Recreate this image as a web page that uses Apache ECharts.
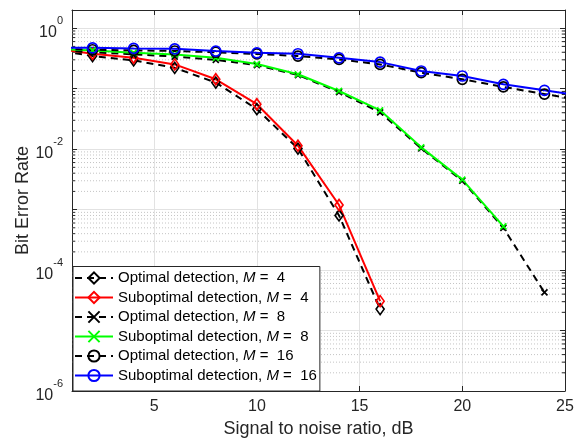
<!DOCTYPE html>
<html>
<head>
<meta charset="utf-8">
<script src="https://cdn.jsdelivr.net/npm/echarts@6/dist/echarts.min.js"></script>
<style>
  html, body { margin: 0; padding: 0; background: #fff; }
  #chart { width: 584px; height: 445px; }
</style>
</head>
<body>
<div id="chart"></div>
<script>
// SNR points (dB) for each curve family
const snrM4 = [0, 2, 4, 6, 8, 10, 12, 14, 16];
const snrM8opt = [0, 2, 4, 6, 8, 10, 12, 14, 16, 18, 20, 22, 24];
const snrM8sub = [0, 2, 4, 6, 8, 10, 12, 14, 16, 18, 20, 22];
const snrM16 = [0, 2, 4, 6, 8, 10, 12, 14, 16, 18, 20, 22, 24, 26];

// Bit error rates
const optM4 = [0.45, 0.346, 0.294, 0.221, 0.126, 0.0458, 0.0102, 8.0e-4, 2.26e-5];
const subM4 = [0.47, 0.377, 0.324, 0.252, 0.143, 0.0553, 0.0114, 1.19e-3, 3.06e-5];
const optM8 = [0.44, 0.40, 0.37, 0.34, 0.30, 0.245, 0.168, 0.088, 0.0405, 0.0103, 3.0e-3, 5.0e-4, 4.26e-5];
const subM8 = [0.46, 0.429, 0.392, 0.369, 0.324, 0.255, 0.173, 0.0916, 0.0438, 0.0107, 3.13e-3, 5.27e-4];
const optM16 = [0.46, 0.44, 0.43, 0.42, 0.40, 0.375, 0.346, 0.305, 0.252, 0.184, 0.143, 0.107, 0.0813, 0.063];
const subM16 = [0.48, 0.473, 0.463, 0.456, 0.418, 0.392, 0.378, 0.324, 0.275, 0.196, 0.162, 0.118, 0.094, 0.074];

const seriesNames = [
  'Optimal detection, M =  4',
  'Suboptimal detection, M =  4',
  'Optimal detection, M =  8',
  'Suboptimal detection, M =  8',
  'Optimal detection, M =  16',
  'Suboptimal detection, M =  16'
];

const xTicks = [5, 10, 15, 20, 25];

const FONT = '"Liberation Sans", Arial, Helvetica, sans-serif';
const AXIS_COLOR = '#262626';
const X_MIN = 1, X_MAX = 25;
const Y_MIN = 1e-6, Y_MAX = 2;

function pairs(xs, ys) {
  return ys.map((v, i) => [xs[i], v]);
}

const xMark = 'path://M0,0L10,10M10,0L0,10';

function makeSeries(name, xs, ys, color, dashed, symbol, size) {
  return {
    name: name,
    type: 'line',
    data: pairs(xs, ys),
    clip: true,
    symbol: symbol,
    symbolSize: size,
    showAllSymbol: true,
    lineStyle: { color: color, width: 2, type: dashed ? [7, 5] : 'solid' },
    itemStyle: { color: 'rgba(255,255,255,0)', borderColor: color, borderWidth: 1.7 },
    emphasis: { disabled: true },
    z: 3
  };
}

// Minor decade values (2..9 × 10^k) for dotted gridlines and small ticks
const minorVals = [];
for (let e = -6; e <= 0; e++) {
  for (let m = 2; m <= 9; m++) {
    const v = m * Math.pow(10, e);
    if (v < Y_MAX) minorVals.push(v);
  }
}

const minorGridSeries = {
  name: 'minor-grid',
  type: 'custom',
  silent: true,
  clip: true,
  z: 1,
  data: minorVals.map(v => [X_MIN, v]),
  encode: { x: 0, y: 1 },
  renderItem: function (params, api) {
    const v = api.value(1);
    const a = api.coord([X_MIN, v]);
    const b = api.coord([X_MAX, v]);
    return {
      type: 'group',
      children: [
        {
          type: 'line',
          shape: { x1: a[0], y1: a[1], x2: b[0], y2: b[1] },
          style: { stroke: '#c4c4c4', lineWidth: 1, lineDash: [1, 2] }
        },
        {
          type: 'line',
          z2: 5,
          shape: { x1: a[0], y1: a[1], x2: a[0] + 3, y2: a[1] },
          style: { stroke: AXIS_COLOR, lineWidth: 1 }
        },
        {
          type: 'line',
          z2: 5,
          shape: { x1: b[0] - 3, y1: b[1], x2: b[0], y2: b[1] },
          style: { stroke: AXIS_COLOR, lineWidth: 1 }
        }
      ]
    };
  }
};

const series = [
  makeSeries(seriesNames[0], snrM4, optM4, '#000000', true, 'diamond', [8, 11]),
  makeSeries(seriesNames[1], snrM4, subM4, '#ff0000', false, 'diamond', [8, 11]),
  makeSeries(seriesNames[2], snrM8opt, optM8, '#000000', true, xMark, 6),
  makeSeries(seriesNames[3], snrM8sub, subM8, '#00ff00', false, xMark, 6),
  makeSeries(seriesNames[4], snrM16, optM16, '#000000', true, 'circle', 10),
  makeSeries(seriesNames[5], snrM16, subM16, '#0000ff', false, 'circle', 10),
  minorGridSeries
];

function yLabel(v) {
  const e = Math.round(Math.log10(v));
  if (Math.abs(v - Math.pow(10, e)) > 1e-9 * Math.pow(10, e)) return '';
  if (e % 2 !== 0) return '';
  return '{b|10}{s|' + e + '}';
}

const chart = echarts.init(document.getElementById('chart'), null, { renderer: 'canvas' });
chart.setOption({
  animation: false,
  backgroundColor: '#fff',
  grid: { left: 72, right: 19, top: 10, bottom: 54, containLabel: false },
  legend: {
    data: seriesNames,
    orient: 'vertical',
    left: 73,
    bottom: 54,
    itemWidth: 38,
    itemHeight: 14,
    itemGap: 4.5,
    padding: [4, 3, 8, 1],
    backgroundColor: '#fff',
    borderColor: AXIS_COLOR,
    borderWidth: 1,
    borderRadius: 0,
    selectedMode: false,
    textStyle: {
      fontFamily: FONT,
      fontSize: 15,
      lineHeight: 14,
      color: '#000',
      rich: {
        i: { fontFamily: FONT, fontSize: 15, lineHeight: 14, fontStyle: 'italic', color: '#000' }
      }
    },
    formatter: name => name.replace('M =', '{i|M} ='),
    z: 10
  },
  xAxis: [
    {
      type: 'value',
      min: X_MIN,
      max: X_MAX,
      name: 'Signal to noise ratio, dB',
      nameLocation: 'middle',
      nameGap: 28,
      nameTextStyle: { fontFamily: FONT, fontSize: 18, color: AXIS_COLOR },
      axisLine: { show: true, lineStyle: { color: AXIS_COLOR, width: 1 } },
      axisTick: { show: true, inside: true, length: 5, customValues: xTicks, lineStyle: { color: AXIS_COLOR } },
      axisLabel: { customValues: xTicks, margin: 8, fontFamily: FONT, fontSize: 16, color: AXIS_COLOR },
      splitLine: { show: true, lineStyle: { color: '#e2e2e2', width: 1 } }
    },
    {
      type: 'value',
      position: 'top',
      min: X_MIN,
      max: X_MAX,
      axisLine: { show: true, onZero: false, lineStyle: { color: AXIS_COLOR, width: 1 } },
      axisTick: { show: true, inside: true, length: 5, customValues: xTicks, lineStyle: { color: AXIS_COLOR } },
      axisLabel: { show: false },
      splitLine: { show: false }
    }
  ],
  yAxis: [
    {
      type: 'log',
      logBase: 10,
      min: Y_MIN,
      max: Y_MAX,
      interval: 1,
      name: 'Bit Error Rate',
      nameLocation: 'middle',
      nameGap: 40,
      nameMoveOverlap: false,
      nameTextStyle: { fontFamily: FONT, fontSize: 18, color: AXIS_COLOR },
      axisLine: { show: true, lineStyle: { color: AXIS_COLOR, width: 1 } },
      axisTick: { show: true, inside: true, length: 5, lineStyle: { color: AXIS_COLOR } },
      axisLabel: {
        margin: 9,
        showMaxLabel: false,
        formatter: yLabel,
        rich: {
          b: { fontFamily: FONT, fontSize: 16, color: AXIS_COLOR, verticalAlign: 'bottom', padding: [9, 0, 0, 0] },
          s: { fontFamily: FONT, fontSize: 11, color: AXIS_COLOR, verticalAlign: 'top', padding: [0, 0, 9, 0] }
        }
      },
      splitLine: { show: true, lineStyle: { color: '#e2e2e2', width: 1 } }
    },
    {
      type: 'log',
      logBase: 10,
      position: 'right',
      min: Y_MIN,
      max: Y_MAX,
      interval: 1,
      axisLine: { show: true, onZero: false, lineStyle: { color: AXIS_COLOR, width: 1 } },
      axisTick: { show: true, inside: true, length: 5, lineStyle: { color: AXIS_COLOR } },
      axisLabel: { show: false },
      splitLine: { show: false }
    }
  ],
  series: series
});
</script>
</body>
</html>
